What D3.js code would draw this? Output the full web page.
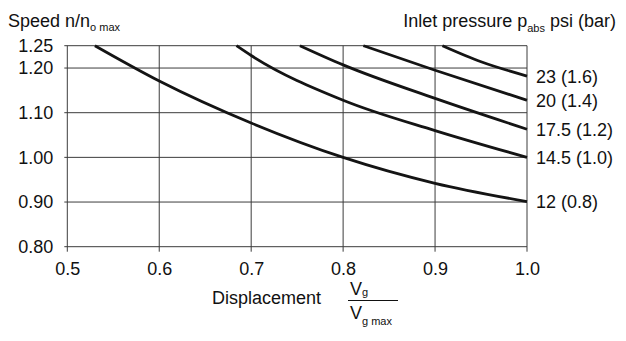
<!DOCTYPE html>
<html>
<head>
<meta charset="utf-8">
<script src="https://cdnjs.cloudflare.com/ajax/libs/d3/7.8.5/d3.min.js"></script>
<style>
  body { margin: 0; background: #fff; }
  svg { display: block; font-family: "Liberation Sans", Arial, sans-serif; }
  .grid line { stroke: #3c3c3c; stroke-width: 1; }
  .curve { fill: none; stroke: #141414; stroke-width: 2.8; }
  text { fill: #111; }
</style>
</head>
<body>
<svg id="chart"></svg>
<script>
const width = 626;
const height = 341;

// axis ticks
const xTicks = [0.5, 0.6, 0.7, 0.8, 0.9, 1.0];
const yTicks = [0.80, 0.90, 1.00, 1.10, 1.20, 1.25];

// curves: displacement Vg/Vg max -> speed n/n0 max
const disp12 = [0.530, 0.600, 0.700, 0.800, 0.900, 1.000];
const speed12 = [1.250, 1.171, 1.077, 1.000, 0.942, 0.901];
const disp145 = [0.684, 0.700, 0.800, 0.900, 1.000];
const speed145 = [1.250, 1.228, 1.128, 1.060, 1.000];
const disp175 = [0.753, 0.800, 0.900, 1.000];
const speed175 = [1.250, 1.207, 1.132, 1.063];
const disp20 = [0.822, 0.900, 1.000];
const speed20 = [1.250, 1.195, 1.128];
const disp23 = [0.908, 0.950, 1.000];
const speed23 = [1.250, 1.214, 1.182];

const pressureLabels = ["12 (0.8)", "14.5 (1.0)", "17.5 (1.2)", "20 (1.4)", "23 (1.6)"];

const curves = [
    [disp12, speed12],
    [disp145, speed145],
    [disp175, speed175],
    [disp20, speed20],
    [disp23, speed23]
].map(([d, s], i) => ({
    label: pressureLabels[i],
    points: d.map((x, j) => ({ x: x, y: s[j] }))
}));

const svg = d3.select("#chart")
    .attr("width", width)
    .attr("height", height);

const x = d3.scaleLinear().domain([0.5, 1.0]).range([67.3, 527]);
const y = d3.scaleLinear().domain([0.80, 1.25]).range([246.7, 45.7]);

// grid
const grid = svg.append("g").attr("class", "grid");
grid.selectAll(".hgrid")
    .data(yTicks)
    .join("line")
    .attr("class", "hgrid")
    .attr("x1", x(0.5) - 3)
    .attr("x2", x(1.0))
    .attr("y1", d => y(d))
    .attr("y2", d => y(d));
grid.selectAll(".vgrid")
    .data(xTicks)
    .join("line")
    .attr("class", "vgrid")
    .attr("x1", d => x(d))
    .attr("x2", d => x(d))
    .attr("y1", y(1.25))
    .attr("y2", y(0.80) + 5);

// axes (labels only, lines drawn by grid)
const yAxis = svg.append("g")
    .attr("transform", `translate(${x(0.5) - 14},0)`)
    .call(d3.axisLeft(y).tickValues(yTicks).tickSize(0).tickPadding(0).tickFormat(d3.format(".2f")));
const xAxis = svg.append("g")
    .attr("transform", `translate(0,${y(0.80) + 5})`)
    .call(d3.axisBottom(x).tickValues(xTicks).tickSize(0).tickPadding(11).tickFormat(d3.format(".1f")));
[yAxis, xAxis].forEach(a => {
    a.select(".domain").remove();
    a.selectAll("text")
        .attr("fill", "#111")
        .style("font-size", "18px")
        .style("font-family", '"Liberation Sans", Arial, sans-serif');
});

// curves
const line = d3.line()
    .x(d => x(d.x))
    .y(d => y(d.y))
    .curve(d3.curveMonotoneX);

svg.selectAll(".curve")
    .data(curves)
    .join("path")
    .attr("class", "curve")
    .attr("d", d => line(d.points));

// pressure labels at the right end of each curve
svg.selectAll(".plabel")
    .data(curves)
    .join("text")
    .attr("class", "plabel")
    .attr("x", x(1.0) + 9)
    .attr("y", d => y(d.points[d.points.length - 1].y))
    .attr("dy", "0.36em")
    .style("font-size", "18px")
    .text(d => d.label);

// titles
const yTitle = svg.append("text")
    .attr("x", 8)
    .attr("y", 27)
    .style("font-size", "18px");
yTitle.append("tspan").text("Speed n/n");
yTitle.append("tspan").attr("dy", 4).style("font-size", "11px").text("o max");

const pTitle = svg.append("text")
    .attr("x", 616)
    .attr("y", 27)
    .attr("text-anchor", "end")
    .style("font-size", "18px");
pTitle.append("tspan").text("Inlet pressure p");
pTitle.append("tspan").attr("dy", 5).style("font-size", "11px").text("abs");
pTitle.append("tspan").attr("dy", -5).text(" psi (bar)");

// x axis title with fraction
svg.append("text")
    .attr("x", 212)
    .attr("y", 304)
    .style("font-size", "18px")
    .text("Displacement");

const frac = svg.append("g");
frac.append("line")
    .attr("x1", 348)
    .attr("x2", 398)
    .attr("y1", 300.5)
    .attr("y2", 300.5)
    .attr("stroke", "#111")
    .attr("stroke-width", 1);
const num = frac.append("text")
    .attr("x", 350)
    .attr("y", 295)
    .style("font-size", "18px");
num.append("tspan").text("V");
num.append("tspan").attr("dy", 1).style("font-size", "11px").text("g");
const den = frac.append("text")
    .attr("x", 350)
    .attr("y", 319)
    .style("font-size", "18px");
den.append("tspan").text("V");
den.append("tspan").attr("dy", 6).style("font-size", "11px").text("g max");
</script>
</body>
</html>
